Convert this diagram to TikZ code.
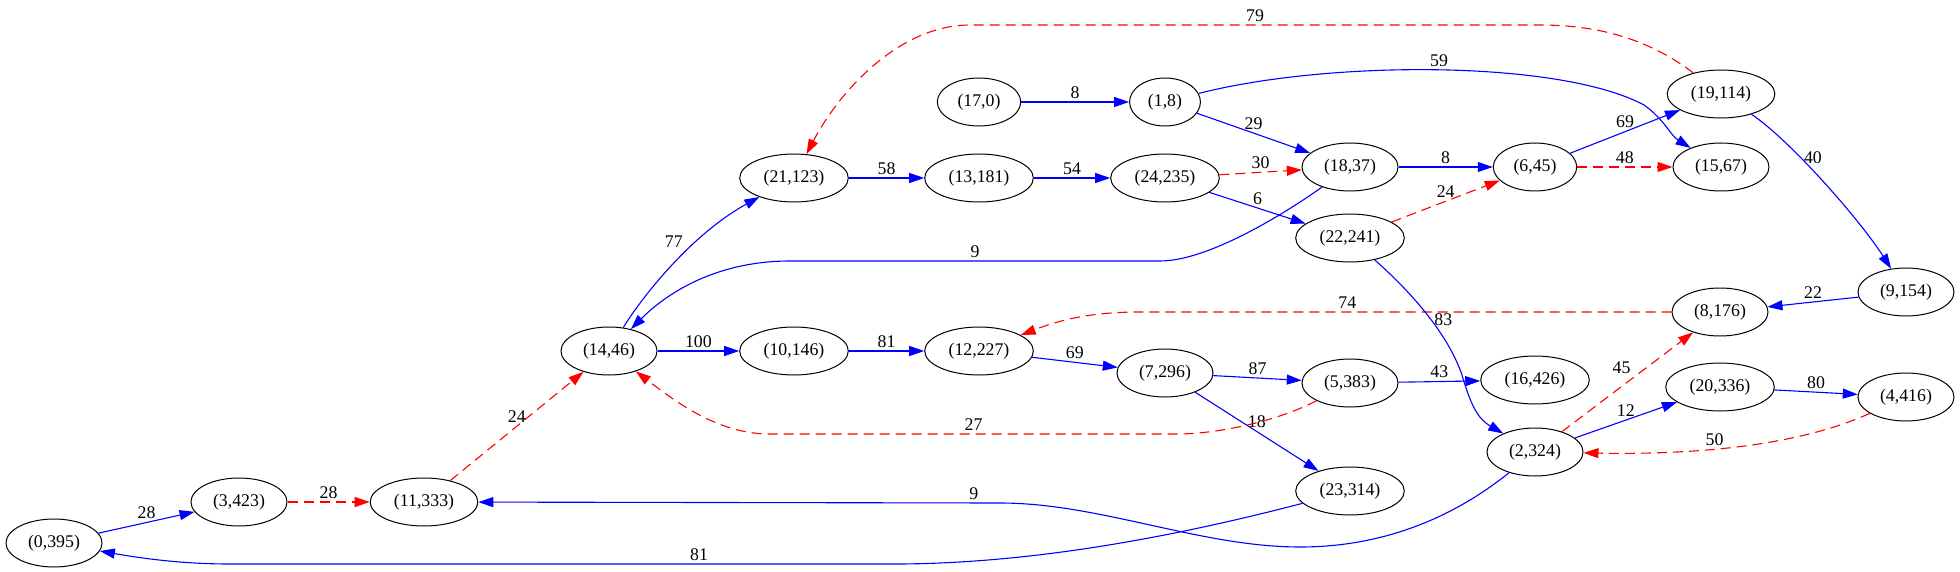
\documentclass[tikz,border=0pt]{standalone}
\usepackage{fontspec}
\setmainfont{Liberation Serif}
\usetikzlibrary{arrows.meta, shapes.geometric}
\tikzset{vertex/.style={draw, ellipse, line width=1pt, inner xsep=8pt, inner ysep=0pt, minimum height=48pt}}
\tikzset{tree/.style={line width=1.1pt, blue, -{Triangle[length=15pt,width=10pt]}}}
\tikzset{back/.style={tree, red, dash pattern=on 10pt off 6pt}}
\tikzset{wt/.style={text=black, inner sep=3pt}}

\begin{document}
\begin{tikzpicture}[x=1pt, y=-1pt, font=\fontsize{17.8pt}{20pt}\selectfont]
        \useasboundingbox (0,0) rectangle (1960,572);
        % Nodes
        \foreach \i/\d/\x/\y in {
          0/395/54/543, 3/423/239/502, 11/333/424/502, 14/46/609/351,
          21/123/794/178, 17/0/979/102, 1/8/1165/102, 13/181/979/178,
          24/235/1165/178, 18/37/1350/167, 22/241/1350/238, 6/45/1535/167,
          19/114/1721/94, 15/67/1721/167, 9/154/1906/292, 8/176/1720/312,
          10/146/794/351, 12/227/979/351, 7/296/1165/373, 5/383/1350/383,
          23/314/1350/491, 16/426/1535/380, 2/324/1535/452, 20/336/1720/387,
          4/416/1906/397%
        } {
          \node[vertex] (v\i) at (\x,\y) {(\i,\d)};
        }
        % Straight edges
        \foreach \a/\b/\w in {0/3/28, 17/1/8, 1/18/29, 21/13/58, 13/24/54, 24/22/6,
          18/6/8, 6/19/69, 9/8/22, 14/10/100, 10/12/81, 12/7/69, 7/5/87, 7/23/18,
          5/16/43, 2/20/12, 20/4/80} {
          \draw[tree] (v\a) -- node[wt, above] {\w} (v\b);
        }
        \foreach \a/\b/\w in {3/11/28, 11/14/24, 24/18/30, 22/6/24, 6/15/48} {
          \draw[back] (v\a) -- node[wt, above] {\w} (v\b);
        }
        \draw[back] (v2) -- node[wt, pos=0.55, above left] {45} (v8);
        % Curved edges
        \draw[tree] (v14) .. controls (640,300) and (690,235) .. node[wt, pos=0.6, above left] {77} (v21);
        \draw[tree] (v1) .. controls (1330,60) and (1560,60) .. node[wt, above] {59} (1644,105)
          .. controls (1665,120) and (1670,135) .. (v15);
        \draw[back] (v19) .. controls (1650,40) and (1600,25) .. (1540,25)
          -- node[wt, above] {79} (970,25) .. controls (900,25) and (840,90) .. (v21);
        \draw[tree] (v19) .. controls (1790,140) and (1860,220) .. node[wt, pos=0.35, right] {40} (v9);
        \draw[back] (v8) -- node[wt, pos=0.61, above] {74} (1140,312)
          .. controls (1090,312) and (1060,320) .. (v12);
        \draw[tree] (v22) .. controls (1420,300) and (1450,340) .. node[wt, right] {83} (1462,375)
          .. controls (1472,410) and (1480,420) .. (v2);
        \draw[tree] (v18) .. controls (1290,210) and (1210,261) .. (1160,261)
          -- node[wt, above] {9} (790,261) .. controls (720,261) and (670,290) .. (v14);
        \draw[back] (v5) .. controls (1280,420) and (1220,434) .. (1177,434)
          -- node[wt, above] {27} (770,434) .. controls (720,434) and (680,405) .. (v14);
        \draw[tree] (v2) .. controls (1450,520) and (1380,547) .. (1300,547)
          .. controls (1200,547) and (1100,503) .. (1000,503) -- node[wt, pos=0.05, above] {9} (v11);
        \draw[tree] (v23) .. controls (1200,530) and (1050,563) .. (900,564)
          -- node[wt, pos=0.3, above] {81} (230,564) .. controls (180,564) and (140,558) .. (v0);
        \draw[back] (v4) .. controls (1800,445) and (1700,455) .. node[wt, pos=0.6, above] {50} (v2);
\end{tikzpicture}
\end{document}
